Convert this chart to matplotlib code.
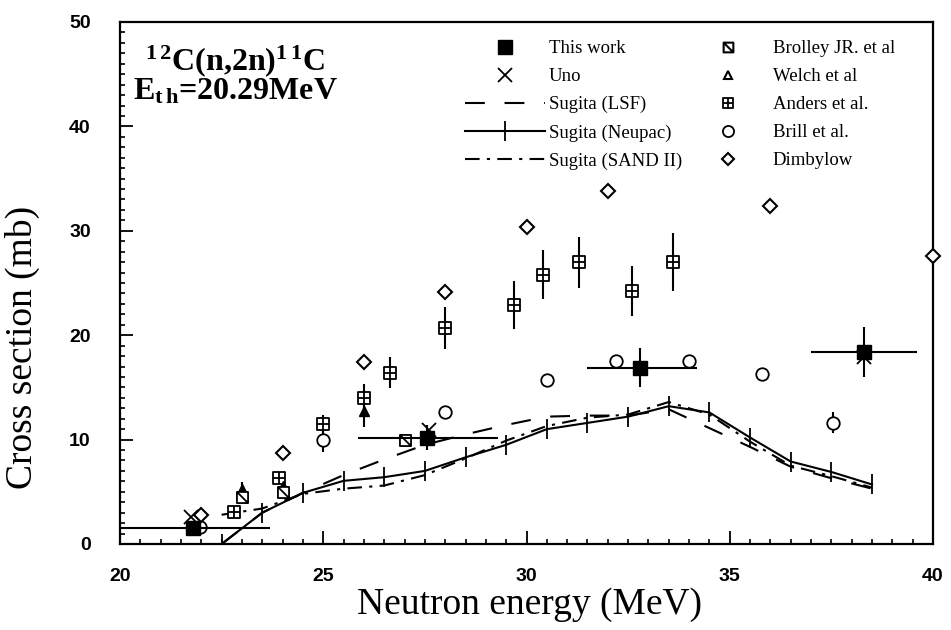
import matplotlib
matplotlib.use("Agg")
import matplotlib.pyplot as plt
from matplotlib.lines import Line2D
from matplotlib.path import Path
from matplotlib.ticker import MultipleLocator

plt.rcParams["mathtext.fontset"] = "custom"
plt.rcParams["mathtext.rm"] = "Liberation Serif:bold"
plt.rcParams["mathtext.it"] = "Liberation Serif:bold"
plt.rcParams["mathtext.bf"] = "Liberation Serif:bold"

# --- data ---
# This work (filled squares, with energy bins)
work_e = [21.8, 27.55, 32.8, 38.3]
work_s = [1.5, 10.2, 16.9, 18.4]
work_e_lo = [20.0, 25.85, 31.5, 37.0]
work_e_hi = [23.7, 29.3, 34.2, 39.6]
work_err = [0.3, 1.2, 1.9, 2.4]

uno_e = [21.75, 27.6, 38.3]
uno_s = [2.6, 10.9, 17.9]

# Sugita unfolded curves
sugita_e = [22.5, 23.5, 24.5, 25.5, 26.5, 27.5, 28.5, 29.5, 30.5,
            31.5, 32.5, 33.5, 34.5, 35.5, 36.5, 37.5, 38.5]
sugita_lsf = [0.0, 3.0, 4.9, 6.6, 8.1, 9.5, 10.5, 11.4, 12.2,
              12.3, 12.3, 12.9, 11.1, 9.3, 7.4, 6.3, 5.3]
sugita_neupac = [0.0, 3.0, 4.9, 6.05, 6.4, 7.0, 8.3, 9.5, 11.0,
                 11.6, 12.2, 13.2, 12.6, 10.2, 7.9, 6.9, 5.7]
sugita_sand = [2.8, 3.4, 4.8, 5.3, 5.6, 6.6, 8.2, 9.9, 11.3,
               12.1, 12.4, 13.6, 12.4, 9.8, 7.5, 6.5, 5.4]

brolley_e = [23.0, 24.0, 27.0]
brolley_s = [4.5, 5.0, 10.0]

welch_e = [23.0, 24.0, 26.0]
welch_s = [5.3, 5.6, 12.7]
welch_err = [0.6, 0.3, 1.5]

anders_e = [22.8, 23.9, 25.0, 26.0, 26.65, 28.0, 29.7, 30.4, 31.3, 32.6, 33.6]
anders_s = [3.1, 6.3, 11.5, 14.0, 16.4, 20.7, 22.9, 25.8, 27.0, 24.2, 27.0]
anders_err = [0.3, 0.4, 0.9, 1.3, 1.5, 2.0, 2.3, 2.35, 2.45, 2.4, 2.8]

brill_e = [21.97, 25.0, 28.0, 30.5, 32.2, 34.0, 35.8, 37.55]
brill_s = [1.6, 10.0, 12.6, 15.7, 17.5, 17.5, 16.3, 11.6]
brill_err = [0.0, 1.2, 0.0, 0.0, 0.0, 0.0, 0.0, 1.0]

dimbylow_e = [22.0, 24.0, 26.0, 28.0, 30.0, 32.0, 36.0, 40.0]
dimbylow_s = [2.8, 8.75, 17.4, 24.1, 30.4, 33.85, 32.4, 27.6]

# custom markers: square with slash, square with cross
sq = [(-1, -1), (1, -1), (1, 1), (-1, 1), (-1, -1)]
sq_codes = [Path.MOVETO, Path.LINETO, Path.LINETO, Path.LINETO, Path.CLOSEPOLY]
brolley_mk = Path(sq + [(-1, 1), (1, -1)], sq_codes + [Path.MOVETO, Path.LINETO])
anders_mk = Path(sq + [(0, -1), (0, 1), (-1, 0), (1, 0)],
                 sq_codes + [Path.MOVETO, Path.LINETO, Path.MOVETO, Path.LINETO])

lsf_dash = (0, (9.5, 9.5))
sand_dash = (0, (7.0, 3.5, 1.5, 3.5))

fig = plt.figure(figsize=(9.51, 6.30), dpi=100)
ax = fig.add_axes([120 / 951, 1 - 544 / 630, 813 / 951, 522 / 630])

# curves
ax.plot(sugita_e, sugita_lsf, color="black", lw=1.5, linestyle=lsf_dash, zorder=2)
ax.plot(sugita_e, sugita_sand, color="black", lw=1.5, linestyle=sand_dash, zorder=2)
ax.plot(sugita_e, sugita_neupac, color="black", lw=1.5, marker="|", ms=14, mew=1.3, zorder=3)

# other measurements
ax.errorbar(anders_e, anders_s, yerr=anders_err, fmt="none", ecolor="black", elinewidth=1.5, zorder=3)
ax.plot(anders_e, anders_s, ls="none", marker=anders_mk, ms=8, mfc="white", mec="black", mew=1.3, zorder=4)
ax.errorbar(welch_e, welch_s, yerr=welch_err, fmt="none", ecolor="black", elinewidth=1.5, zorder=3)
ax.plot(welch_e, welch_s, ls="none", marker="^", ms=7, color="black", zorder=4)
ax.plot(brolley_e, brolley_s, ls="none", marker=brolley_mk, ms=8, mfc="white", mec="black", mew=1.3, zorder=4)
ax.errorbar(brill_e, brill_s, yerr=brill_err, fmt="none", ecolor="black", elinewidth=1.5, zorder=3)
ax.plot(brill_e, brill_s, ls="none", marker="o", ms=9, mfc="white", mec="black", mew=1.3, zorder=4)
ax.plot(dimbylow_e, dimbylow_s, ls="none", marker="D", ms=7, mfc="white", mec="black", mew=1.5,
        zorder=4, clip_on=False)

# this work + Uno
xerr = [[e - lo for e, lo in zip(work_e, work_e_lo)], [hi - e for e, hi in zip(work_e, work_e_hi)]]
ax.errorbar(work_e, work_s, xerr=xerr, yerr=work_err, fmt="none", ecolor="black", elinewidth=1.5, zorder=5)
ax.plot(work_e, work_s, ls="none", marker="s", ms=10, color="black", zorder=6)
ax.plot(uno_e, uno_s, ls="none", marker="x", ms=10, mew=1.3, color="black", zorder=6)

ax.set_xlim(20, 40)
ax.set_ylim(0, 50)
ax.xaxis.set_major_locator(MultipleLocator(5))
ax.xaxis.set_minor_locator(MultipleLocator(0.5))
ax.yaxis.set_major_locator(MultipleLocator(10))
ax.yaxis.set_minor_locator(MultipleLocator(1))
ax.tick_params(which="major", direction="in", length=9.5, width=1.3)
ax.tick_params(axis="x", which="major", pad=17)
ax.tick_params(axis="y", which="major", pad=21)
ax.tick_params(which="minor", direction="in", length=3.5, width=1.2)
for lab in ax.get_xticklabels() + ax.get_yticklabels():
    lab.set_fontfamily("Liberation Sans")
    lab.set_fontweight("bold")
    lab.set_fontsize(14)
for sp in ax.spines.values():
    sp.set_linewidth(1.6)

ax.set_xlabel("Neutron energy (MeV)", fontfamily="Liberation Serif", fontsize=27)
ax.set_ylabel("Cross section (mb)", fontfamily="Liberation Serif", fontsize=27)
ax.xaxis.set_label_coords(0.504, -0.083)
ax.yaxis.set_label_coords(-0.098, 0.377)

ax.text(145 / 951, 1 - 70 / 630, r"$^{1\,2}$C(n,2n)$^{1\,1}$C", transform=fig.transFigure,
        fontfamily="Liberation Serif", fontweight="bold", fontsize=23, va="baseline")
ax.text(133 / 951, 1 - 100 / 630, r"E$_{\mathrm{t\,h}}$=20.29MeV", transform=fig.transFigure,
        fontfamily="Liberation Serif", fontweight="bold", fontsize=23, va="baseline")

# legends
h1 = [
    Line2D([], [], ls="none", marker="s", ms=10, color="black"),
    Line2D([], [], ls="none", marker="x", ms=10, mew=1.3, color="black"),
    Line2D([], [], color="black", lw=1.5, linestyle=lsf_dash),
    Line2D([], [], color="black", lw=1.5, marker="|", ms=14, mew=1.3),
    Line2D([], [], color="black", lw=1.5, linestyle=sand_dash),
]
l1 = ["This work", "Uno", "Sugita (LSF)", "Sugita (Neupac)", "Sugita (SAND II)"]
h2 = [
    Line2D([], [], ls="none", marker=brolley_mk, ms=7, mfc="white", mec="black", mew=1.5),
    Line2D([], [], ls="none", marker="^", ms=6, mfc="white", mec="black", mew=1.5),
    Line2D([], [], ls="none", marker=anders_mk, ms=7, mfc="white", mec="black", mew=1.3),
    Line2D([], [], ls="none", marker="o", ms=8, mfc="white", mec="black", mew=1.3),
    Line2D([], [], ls="none", marker="D", ms=6.5, mfc="white", mec="black", mew=1.5),
]
l2 = ["Brolley JR. et al", "Welch et al", "Anders et al.", "Brill et al.", "Dimbylow"]

leg_kw = dict(loc="upper left", frameon=False, borderpad=0, borderaxespad=0,
              labelspacing=0.58, prop={"family": "Liberation Serif", "size": 13.5},
              bbox_transform=fig.transFigure, numpoints=1)
leg1 = ax.legend(h1, l1, bbox_to_anchor=(465 / 951, 1 - 40 / 630),
                 handlelength=4.27, handletextpad=0.21, **leg_kw)
ax.add_artist(leg1)
ax.legend(h2, l2, bbox_to_anchor=(709 / 951, 1 - 40 / 630),
          handlelength=2.0, handletextpad=1.41, **leg_kw)

fig.savefig("out.png", dpi=100)
